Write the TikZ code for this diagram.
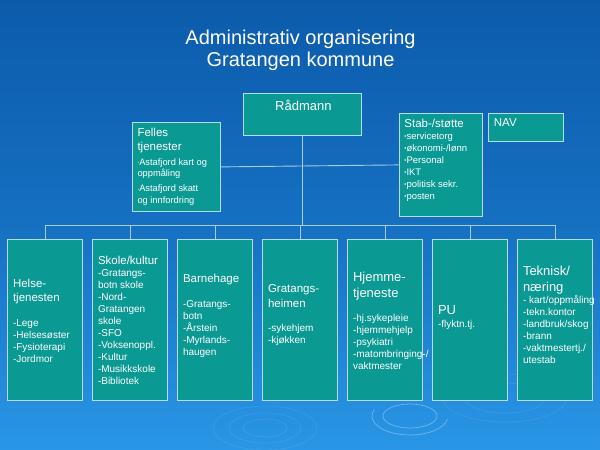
\documentclass[tikz,border=0pt]{standalone}
\usepackage{fontspec}
\setmainfont{Liberation Sans}
\definecolor{bgtop}{HTML}{0C5BAB}
\definecolor{bgmid}{HTML}{1670C2}
\definecolor{bgbot}{HTML}{2A96E6}
\definecolor{boxfill}{HTML}{0B9994}
\definecolor{boxline}{HTML}{B5DCEA}
\definecolor{connc}{HTML}{A6CDE6}
\definecolor{bulc}{HTML}{A8D46A}
\newcommand\tfont{\fontsize{11.5}{14}\selectfont}
\newcommand\Tfont{\fontsize{13}{16}\selectfont}
\newcommand\itfont{\fontsize{10}{12}\selectfont\lineskiplimit=-20pt\relax}
\newcommand\felfont{\fontsize{9.3}{11.6}\selectfont\lineskiplimit=-20pt\relax}
\newcommand\stabfont{\fontsize{9.5}{12}\selectfont\lineskiplimit=-20pt\relax}
\newcommand\fellb{\textcolor{bulc}{\fontsize{5}{5}\selectfont\raisebox{0.9pt}{•}}}
\newcommand\stabb{{\fontsize{6}{6}\selectfont\raisebox{0.9pt}{•}}}
\tikzset{
  box/.style={draw=boxline, fill=boxfill, line width=0.8pt, inner sep=0pt},
  txt/.style={text=white, align=left, inner sep=0pt, font=\itfont, anchor=north west},
  conn/.style={draw=connc, line width=0.9pt},
  ripple/.style={draw=white, line width=0.8pt}
}
\begin{document}
\begin{tikzpicture}[x=1pt,y=-1pt]
\fill[top color=bgtop, bottom color=bgbot, middle color=bgmid] (0,0) rectangle (600,450);
\useasboundingbox (0,0) rectangle (600,450);
% ripples
\begin{scope}[opacity=0.08]
\draw[ripple] (265,428) ellipse [x radius=22pt, y radius=9pt];
\draw[ripple] (265,428) ellipse [x radius=36pt, y radius=15pt];
\draw[ripple] (265,428) ellipse [x radius=52pt, y radius=22pt];
\draw[ripple] (505,398) ellipse [x radius=40pt, y radius=15pt];
\draw[ripple] (505,398) ellipse [x radius=62pt, y radius=24pt];
\end{scope}
\begin{scope}[opacity=0.3]
\draw[ripple] (410,416) ellipse [x radius=27pt, y radius=12pt];
\draw[ripple] (410,416) ++(160:38pt and 19pt) arc [start angle=160, end angle=350, x radius=38pt, y radius=19pt];
\end{scope}
% title
\node[text=white, align=center, font=\fontsize{20}{22.3}\selectfont, inner sep=0pt, anchor=north] (title) at (300.5,29.4) {Administrativ organisering\\Gratangen kommune};
% top boxes
\node[box, minimum width=117.4pt, minimum height=42.3pt, anchor=north west] (rad) at (243.3,92.7) {};
\node[box, minimum width=88.6pt, minimum height=89pt, anchor=north west] (fel) at (131.7,122) {};
\node[box, minimum width=83.3pt, minimum height=103.6pt, anchor=north west] (stab) at (398.7,112.7) {};
\node[box, minimum width=75pt, minimum height=28pt, anchor=north west] (nav) at (487.7,112.7) {};
% bottom boxes
\foreach \i in {1,...,7}
  \node[box, minimum width=74.5pt, minimum height=160.5pt, anchor=north west] (b\i) at ({7.3+85*(\i-1)},239) {};
% connectors
\path (rad.south) ++(0,90) coordinate (busc);
\draw[conn] (rad.south) -- (busc);
\foreach \i in {1,...,7}
  \draw[conn] (busc) -| (b\i.north);
\draw[conn] (fel.east) -- (stab.west);
% texts
\node[txt, font=\Tfont, anchor=north] (radt) at ([xshift=1pt,yshift=-7pt]rad.north) {Rådmann};
\node[txt, font=\felfont] (felt) at ([xshift=5.6pt,yshift=-6.3pt]fel.north west)
  {{\tfont Felles}\\[2pt]{\tfont tjenester}\\[3.3pt]\fellb Astafjord kart og\\oppmåling\\[3.4pt]\fellb Astafjord skatt\\og innfordring};
\node[txt, font=\stabfont] (stabt) at ([xshift=5.5pt,yshift=-6pt]stab.north west)
  {{\tfont Stab-/støtte}\\[0.5pt]\stabb servicetorg\\\stabb økonomi-/lønn\\\stabb Personal\\\stabb IKT\\\stabb politisk sekr.\\\stabb posten};
\node[txt, font=\tfont] (navt) at ([xshift=6pt,yshift=-5.4pt]nav.north west) {NAV};
\node[txt] (t1) at ([xshift=5.5pt,yshift=-40.3pt]b1.north west)
  {{\tfont Helse-}\\[1.5pt]{\tfont tjenesten}\\[13pt]-Lege\\-Helsesøster\\-Fysioterapi\\-Jordmor};
\node[txt] (t2) at ([xshift=5.5pt,yshift=-17pt]b2.north west)
  {{\tfont Skole/kultur}\\-Gratangs-\\botn skole\\-Nord-\\Gratangen\\skole\\-SFO\\-Voksenoppl.\\-Kultur\\-Musikkskole\\-Bibliotek};
\node[txt] (t3) at ([xshift=5.5pt,yshift=-34.7pt]b3.north west)
  {{\tfont Barnehage}\\[13pt]-Gratangs-\\botn\\-Årstein\\-Myrlands-\\haugen};
\node[txt] (t4) at ([xshift=5.5pt,yshift=-45.3pt]b4.north west)
  {{\tfont Gratangs-}\\[3pt]{\tfont heimen}\\[12pt]-sykehjem\\-kjøkken};
\node[txt] (t5) at ([xshift=5.5pt,yshift=-33.2pt]b5.north west)
  {{\Tfont Hjemme-}\\[4pt]{\Tfont tjeneste}\\[12pt]-hj.sykepleie\\-hjemmehjelp\\-psykiatri\\-matombringing-/\\vaktmester};
\node[txt] (t6) at ([xshift=5.5pt,yshift=-66.3pt]b6.north west)
  {{\Tfont PU}\\[1pt]-flyktn.tj.};
\node[txt] (t7) at ([xshift=5.5pt,yshift=-26.5pt]b7.north west)
  {{\Tfont Teknisk/}\\[4pt]{\Tfont næring}\\- kart/oppmåling\\-tekn.kontor\\-landbruk/skog\\-brann\\-vaktmestertj./\\utestab};
\end{tikzpicture}
\end{document}
